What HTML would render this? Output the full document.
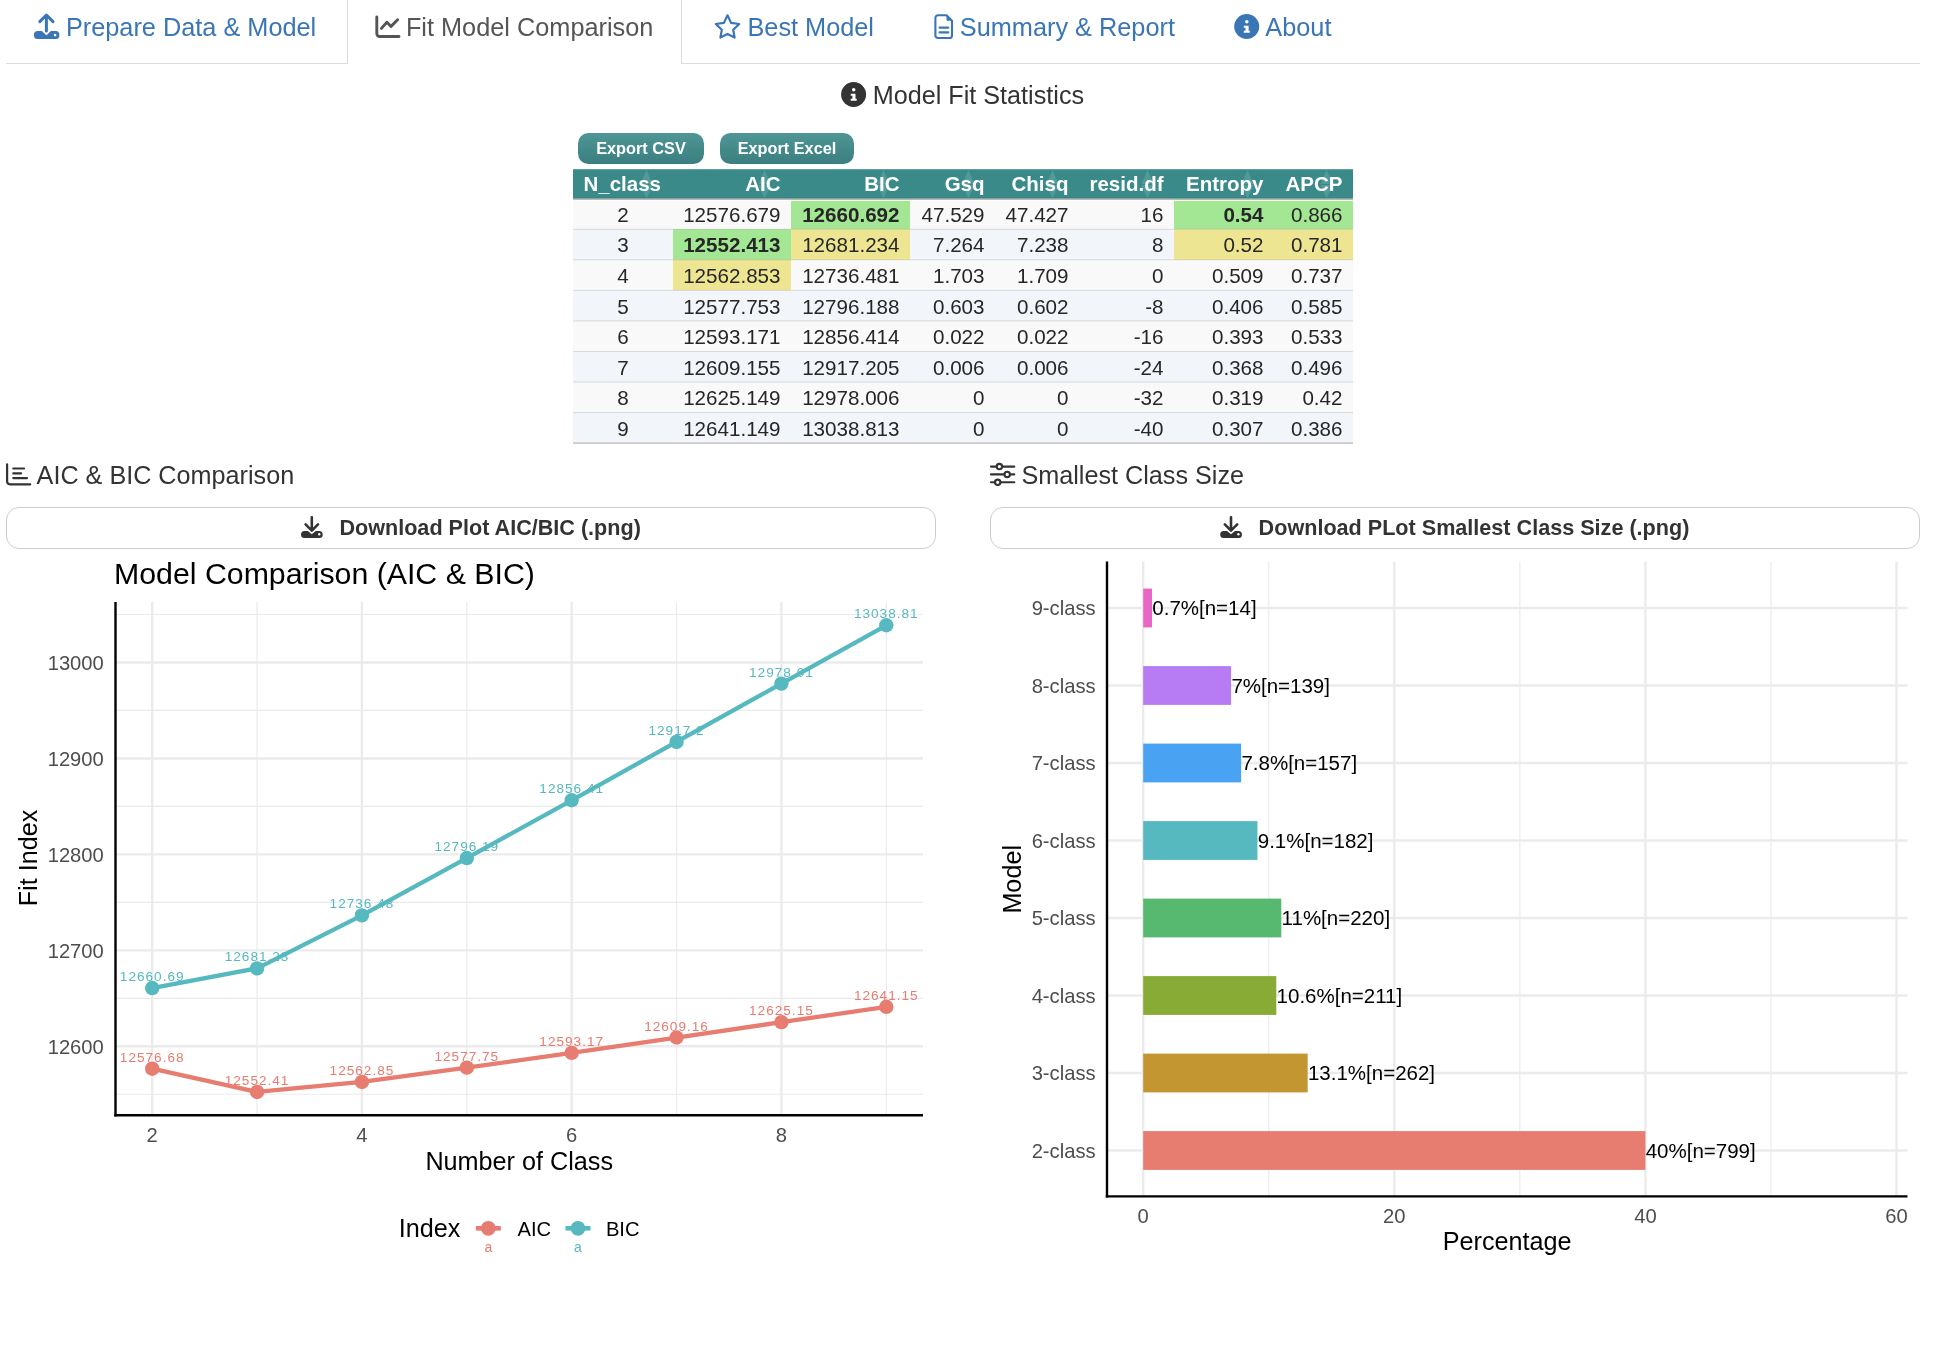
<!DOCTYPE html>
<html><head><meta charset="utf-8"><title>Fit Model Comparison</title>
<style>
html,body{margin:0;padding:0;background:#fff;width:1936px;height:1350px;overflow:hidden;}
svg{display:block;font-family:"Liberation Sans", sans-serif;will-change:transform;}
</style></head><body>
<svg width="1936" height="1350" viewBox="0 0 1936 1350">
<line x1="6" y1="63.5" x2="1920" y2="63.5" stroke="#dddddd" stroke-width="1"/>
<rect x="0" y="0" width="1936" height="0" fill="none"/>
<path d="M347.5 0 V64 M681.5 0 V64" stroke="#dddddd" stroke-width="1" fill="none"/>
<rect x="348" y="0" width="333" height="64" fill="#fff"/>
<text x="65.95" y="36" font-size="25.3" fill="#3a76b6">Prepare Data &amp; Model</text>
<text x="405.93" y="36" font-size="25.3" fill="#555555">Fit Model Comparison</text>
<text x="747.45" y="36" font-size="25.3" fill="#3a76b6">Best Model</text>
<text x="959.86" y="36" font-size="25.3" fill="#3a76b6">Summary &amp; Report</text>
<text x="1265.30" y="36" font-size="25.3" fill="#3a76b6">About</text>
<g fill="#3a76b6">
<path d="M46.4 30.9 V15.5 M39.8 21.6 L46.4 15 L53 21.6" stroke="#3a76b6" stroke-width="3" stroke-linecap="round" stroke-linejoin="round" fill="none"/>
<path d="M37.5 31 H41.8 L46.4 35.3 L51 31 H55.8 A3.5 3.5 0 0 1 59.3 34.5 V35.4 A3.5 3.5 0 0 1 55.8 38.9 H37.5 A3.5 3.5 0 0 1 34 35.4 V34.5 A3.5 3.5 0 0 1 37.5 31 Z"/>
<circle cx="55.1" cy="35.1" r="1.3" fill="#fff"/>
</g>
<g stroke="#555555" stroke-width="2.9" fill="none" stroke-linecap="round" stroke-linejoin="round">
<path d="M376.8 17 V33.5 A3 3 0 0 0 379.8 36.5 H399"/>
<path d="M381.4 28.4 L386.9 22.2 L391 26.4 L397.6 19.8"/>
</g>
<path d="M727.5 15.3 L731.1 22.9 L739.2 24 L733.2 29.8 L734.6 37.6 L727.5 33.9 L720.4 37.6 L721.8 29.8 L715.8 24 L723.9 22.9 Z" stroke="#3a76b6" stroke-width="2.2" fill="none" stroke-linejoin="round"/>
<g stroke="#3a76b6" stroke-width="2.1" fill="none" stroke-linejoin="round" stroke-linecap="round">
<path d="M946.5 15.2 H938 A2.6 2.6 0 0 0 935.4 17.8 V35.4 A2.6 2.6 0 0 0 938 38 H949.4 A2.6 2.6 0 0 0 952 35.4 V20.8 Z"/>
<path d="M939.6 27.6 H948.3 M939.6 32.4 H948.3"/>
</g>
<path d="M946.5 15.2 V19.8 A1 1 0 0 0 947.5 20.8 H952 Z" fill="#3a76b6"/>
<circle cx="1246.7" cy="26.5" r="12.5" fill="#3a76b6"/>
<circle cx="1246.80" cy="21.80" r="1.75" fill="#fff"/>
<path d="M1243.80 25.80 H1248.60 V30.80 H1249.80 V32.80 H1243.80 V30.80 H1245.50 V27.80 H1243.80 Z" fill="#fff"/>
<circle cx="853.6" cy="94.5" r="12.5" fill="#333333"/>
<circle cx="853.70" cy="89.80" r="1.75" fill="#fff"/>
<path d="M850.70 93.80 H855.50 V98.80 H856.70 V100.80 H850.70 V98.80 H852.40 V95.80 H850.70 Z" fill="#fff"/>
<text x="872.74" y="103.9" font-size="25.2" fill="#333">Model Fit Statistics</text>
<defs><linearGradient id="tg" x1="0" y1="0" x2="0" y2="1">
<stop offset="0" stop-color="#4f9696"/><stop offset="1" stop-color="#3b7f80"/></linearGradient></defs>
<rect x="578" y="133" width="126" height="31" rx="10.5" fill="url(#tg)"/>
<rect x="720" y="133" width="134" height="31" rx="10.5" fill="url(#tg)"/>
<text x="641" y="153.9" font-size="16.3" fill="#fff" font-weight="700" text-anchor="middle">Export CSV</text>
<text x="787" y="153.9" font-size="16.3" fill="#fff" font-weight="700" text-anchor="middle">Export Excel</text>
<rect x="573" y="169.2" width="780" height="29.40" fill="#3b8a8a"/>
<text x="583.50" y="191.10" font-size="20.5" fill="#fff" font-weight="700" text-anchor="start" >N_class</text>
<text x="780.50" y="191.10" font-size="20.5" fill="#fff" font-weight="700" text-anchor="end" >AIC</text>
<text x="899.50" y="191.10" font-size="20.5" fill="#fff" font-weight="700" text-anchor="end" >BIC</text>
<text x="984.50" y="191.10" font-size="20.5" fill="#fff" font-weight="700" text-anchor="end" >Gsq</text>
<text x="1068.50" y="191.10" font-size="20.5" fill="#fff" font-weight="700" text-anchor="end" >Chisq</text>
<text x="1163.50" y="191.10" font-size="20.5" fill="#fff" font-weight="700" text-anchor="end" >resid.df</text>
<text x="1263.50" y="191.10" font-size="20.5" fill="#fff" font-weight="700" text-anchor="end" >Entropy</text>
<text x="1342.50" y="191.10" font-size="20.5" fill="#fff" font-weight="700" text-anchor="end" >APCP</text>
<path d="M640.5 184 L646.5 170 L652.5 184 Z M640.5 185 L646.5 198.5 L652.5 185 Z" fill="#ffffff" fill-opacity="0.13"/>
<path d="M758.5 184 L764.5 170 L770.5 184 Z M758.5 185 L764.5 198.5 L770.5 185 Z" fill="#ffffff" fill-opacity="0.13"/>
<path d="M877.5 184 L883.5 170 L889.5 184 Z M877.5 185 L883.5 198.5 L889.5 185 Z" fill="#ffffff" fill-opacity="0.13"/>
<path d="M962.5 184 L968.5 170 L974.5 184 Z M962.5 185 L968.5 198.5 L974.5 185 Z" fill="#ffffff" fill-opacity="0.13"/>
<path d="M1046.5 184 L1052.5 170 L1058.5 184 Z M1046.5 185 L1052.5 198.5 L1058.5 185 Z" fill="#ffffff" fill-opacity="0.13"/>
<path d="M1141.5 184 L1147.5 170 L1153.5 184 Z M1141.5 185 L1147.5 198.5 L1153.5 185 Z" fill="#ffffff" fill-opacity="0.13"/>
<path d="M1241.5 184 L1247.5 170 L1253.5 184 Z M1241.5 185 L1247.5 198.5 L1253.5 185 Z" fill="#ffffff" fill-opacity="0.13"/>
<path d="M1320.5 184 L1326.5 170 L1332.5 184 Z M1320.5 185 L1326.5 198.5 L1332.5 185 Z" fill="#ffffff" fill-opacity="0.13"/>
<rect x="573" y="198.60" width="780" height="30.700" fill="#f9f9f9"/>
<rect x="791" y="198.60" width="119" height="30.700" fill="#a3e795"/>
<rect x="1174" y="198.60" width="100" height="30.700" fill="#a3e795"/>
<rect x="1274" y="198.60" width="79" height="30.700" fill="#a3e795"/>
<text x="623.00" y="221.90" font-size="20.6" fill="#262626" font-weight="400" text-anchor="middle" >2</text>
<text x="780.50" y="221.90" font-size="20.6" fill="#262626" font-weight="400" text-anchor="end" >12576.679</text>
<text x="899.50" y="221.90" font-size="20.6" fill="#262626" font-weight="700" text-anchor="end" >12660.692</text>
<text x="984.50" y="221.90" font-size="20.6" fill="#262626" font-weight="400" text-anchor="end" >47.529</text>
<text x="1068.50" y="221.90" font-size="20.6" fill="#262626" font-weight="400" text-anchor="end" >47.427</text>
<text x="1163.50" y="221.90" font-size="20.6" fill="#262626" font-weight="400" text-anchor="end" >16</text>
<text x="1263.50" y="221.90" font-size="20.6" fill="#262626" font-weight="700" text-anchor="end" >0.54</text>
<text x="1342.50" y="221.90" font-size="20.6" fill="#262626" font-weight="400" text-anchor="end" >0.866</text>
<rect x="573" y="229.30" width="780" height="30.540" fill="#f2f5fa"/>
<rect x="673" y="229.30" width="118" height="30.540" fill="#a3e795"/>
<rect x="791" y="229.30" width="119" height="30.540" fill="#ede592"/>
<rect x="1174" y="229.30" width="100" height="30.540" fill="#ede592"/>
<rect x="1274" y="229.30" width="79" height="30.540" fill="#ede592"/>
<line x1="573" y1="229.30" x2="1353" y2="229.30" stroke="#000" stroke-opacity="0.13" stroke-width="1"/>
<text x="623.00" y="252.44" font-size="20.6" fill="#262626" font-weight="400" text-anchor="middle" >3</text>
<text x="780.50" y="252.44" font-size="20.6" fill="#262626" font-weight="700" text-anchor="end" >12552.413</text>
<text x="899.50" y="252.44" font-size="20.6" fill="#262626" font-weight="400" text-anchor="end" >12681.234</text>
<text x="984.50" y="252.44" font-size="20.6" fill="#262626" font-weight="400" text-anchor="end" >7.264</text>
<text x="1068.50" y="252.44" font-size="20.6" fill="#262626" font-weight="400" text-anchor="end" >7.238</text>
<text x="1163.50" y="252.44" font-size="20.6" fill="#262626" font-weight="400" text-anchor="end" >8</text>
<text x="1263.50" y="252.44" font-size="20.6" fill="#262626" font-weight="400" text-anchor="end" >0.52</text>
<text x="1342.50" y="252.44" font-size="20.6" fill="#262626" font-weight="400" text-anchor="end" >0.781</text>
<rect x="573" y="259.84" width="780" height="30.540" fill="#f9f9f9"/>
<rect x="673" y="259.84" width="118" height="30.540" fill="#ede592"/>
<line x1="573" y1="259.84" x2="1353" y2="259.84" stroke="#000" stroke-opacity="0.13" stroke-width="1"/>
<text x="623.00" y="282.98" font-size="20.6" fill="#262626" font-weight="400" text-anchor="middle" >4</text>
<text x="780.50" y="282.98" font-size="20.6" fill="#262626" font-weight="400" text-anchor="end" >12562.853</text>
<text x="899.50" y="282.98" font-size="20.6" fill="#262626" font-weight="400" text-anchor="end" >12736.481</text>
<text x="984.50" y="282.98" font-size="20.6" fill="#262626" font-weight="400" text-anchor="end" >1.703</text>
<text x="1068.50" y="282.98" font-size="20.6" fill="#262626" font-weight="400" text-anchor="end" >1.709</text>
<text x="1163.50" y="282.98" font-size="20.6" fill="#262626" font-weight="400" text-anchor="end" >0</text>
<text x="1263.50" y="282.98" font-size="20.6" fill="#262626" font-weight="400" text-anchor="end" >0.509</text>
<text x="1342.50" y="282.98" font-size="20.6" fill="#262626" font-weight="400" text-anchor="end" >0.737</text>
<rect x="573" y="290.38" width="780" height="30.540" fill="#f2f5fa"/>
<line x1="573" y1="290.38" x2="1353" y2="290.38" stroke="#000" stroke-opacity="0.13" stroke-width="1"/>
<text x="623.00" y="313.52" font-size="20.6" fill="#262626" font-weight="400" text-anchor="middle" >5</text>
<text x="780.50" y="313.52" font-size="20.6" fill="#262626" font-weight="400" text-anchor="end" >12577.753</text>
<text x="899.50" y="313.52" font-size="20.6" fill="#262626" font-weight="400" text-anchor="end" >12796.188</text>
<text x="984.50" y="313.52" font-size="20.6" fill="#262626" font-weight="400" text-anchor="end" >0.603</text>
<text x="1068.50" y="313.52" font-size="20.6" fill="#262626" font-weight="400" text-anchor="end" >0.602</text>
<text x="1163.50" y="313.52" font-size="20.6" fill="#262626" font-weight="400" text-anchor="end" >-8</text>
<text x="1263.50" y="313.52" font-size="20.6" fill="#262626" font-weight="400" text-anchor="end" >0.406</text>
<text x="1342.50" y="313.52" font-size="20.6" fill="#262626" font-weight="400" text-anchor="end" >0.585</text>
<rect x="573" y="320.92" width="780" height="30.540" fill="#f9f9f9"/>
<line x1="573" y1="320.92" x2="1353" y2="320.92" stroke="#000" stroke-opacity="0.13" stroke-width="1"/>
<text x="623.00" y="344.06" font-size="20.6" fill="#262626" font-weight="400" text-anchor="middle" >6</text>
<text x="780.50" y="344.06" font-size="20.6" fill="#262626" font-weight="400" text-anchor="end" >12593.171</text>
<text x="899.50" y="344.06" font-size="20.6" fill="#262626" font-weight="400" text-anchor="end" >12856.414</text>
<text x="984.50" y="344.06" font-size="20.6" fill="#262626" font-weight="400" text-anchor="end" >0.022</text>
<text x="1068.50" y="344.06" font-size="20.6" fill="#262626" font-weight="400" text-anchor="end" >0.022</text>
<text x="1163.50" y="344.06" font-size="20.6" fill="#262626" font-weight="400" text-anchor="end" >-16</text>
<text x="1263.50" y="344.06" font-size="20.6" fill="#262626" font-weight="400" text-anchor="end" >0.393</text>
<text x="1342.50" y="344.06" font-size="20.6" fill="#262626" font-weight="400" text-anchor="end" >0.533</text>
<rect x="573" y="351.46" width="780" height="30.540" fill="#f2f5fa"/>
<line x1="573" y1="351.46" x2="1353" y2="351.46" stroke="#000" stroke-opacity="0.13" stroke-width="1"/>
<text x="623.00" y="374.60" font-size="20.6" fill="#262626" font-weight="400" text-anchor="middle" >7</text>
<text x="780.50" y="374.60" font-size="20.6" fill="#262626" font-weight="400" text-anchor="end" >12609.155</text>
<text x="899.50" y="374.60" font-size="20.6" fill="#262626" font-weight="400" text-anchor="end" >12917.205</text>
<text x="984.50" y="374.60" font-size="20.6" fill="#262626" font-weight="400" text-anchor="end" >0.006</text>
<text x="1068.50" y="374.60" font-size="20.6" fill="#262626" font-weight="400" text-anchor="end" >0.006</text>
<text x="1163.50" y="374.60" font-size="20.6" fill="#262626" font-weight="400" text-anchor="end" >-24</text>
<text x="1263.50" y="374.60" font-size="20.6" fill="#262626" font-weight="400" text-anchor="end" >0.368</text>
<text x="1342.50" y="374.60" font-size="20.6" fill="#262626" font-weight="400" text-anchor="end" >0.496</text>
<rect x="573" y="382.00" width="780" height="30.540" fill="#f9f9f9"/>
<line x1="573" y1="382.00" x2="1353" y2="382.00" stroke="#000" stroke-opacity="0.13" stroke-width="1"/>
<text x="623.00" y="405.14" font-size="20.6" fill="#262626" font-weight="400" text-anchor="middle" >8</text>
<text x="780.50" y="405.14" font-size="20.6" fill="#262626" font-weight="400" text-anchor="end" >12625.149</text>
<text x="899.50" y="405.14" font-size="20.6" fill="#262626" font-weight="400" text-anchor="end" >12978.006</text>
<text x="984.50" y="405.14" font-size="20.6" fill="#262626" font-weight="400" text-anchor="end" >0</text>
<text x="1068.50" y="405.14" font-size="20.6" fill="#262626" font-weight="400" text-anchor="end" >0</text>
<text x="1163.50" y="405.14" font-size="20.6" fill="#262626" font-weight="400" text-anchor="end" >-32</text>
<text x="1263.50" y="405.14" font-size="20.6" fill="#262626" font-weight="400" text-anchor="end" >0.319</text>
<text x="1342.50" y="405.14" font-size="20.6" fill="#262626" font-weight="400" text-anchor="end" >0.42</text>
<rect x="573" y="412.54" width="780" height="30.560" fill="#f2f5fa"/>
<line x1="573" y1="412.54" x2="1353" y2="412.54" stroke="#000" stroke-opacity="0.13" stroke-width="1"/>
<text x="623.00" y="435.68" font-size="20.6" fill="#262626" font-weight="400" text-anchor="middle" >9</text>
<text x="780.50" y="435.68" font-size="20.6" fill="#262626" font-weight="400" text-anchor="end" >12641.149</text>
<text x="899.50" y="435.68" font-size="20.6" fill="#262626" font-weight="400" text-anchor="end" >13038.813</text>
<text x="984.50" y="435.68" font-size="20.6" fill="#262626" font-weight="400" text-anchor="end" >0</text>
<text x="1068.50" y="435.68" font-size="20.6" fill="#262626" font-weight="400" text-anchor="end" >0</text>
<text x="1163.50" y="435.68" font-size="20.6" fill="#262626" font-weight="400" text-anchor="end" >-40</text>
<text x="1263.50" y="435.68" font-size="20.6" fill="#262626" font-weight="400" text-anchor="end" >0.307</text>
<text x="1342.50" y="435.68" font-size="20.6" fill="#262626" font-weight="400" text-anchor="end" >0.386</text>
<rect x="573" y="197.6" width="780" height="1" fill="#33807f"/>
<rect x="573" y="198.6" width="780" height="1.3" fill="#b0abab"/>
<rect x="573" y="199.9" width="780" height="1" fill="#fdfdfd"/>
<line x1="573" y1="443.1" x2="1353" y2="443.1" stroke="#a9a9a9" stroke-width="1"/>
<g stroke="#333" stroke-width="2.2" fill="none" stroke-linecap="round" stroke-linejoin="round">
<path d="M7.1 464.3 V481.3 A3 3 0 0 0 10.1 484.3 H30.2"/>
<path d="M13.3 468.5 H24 M13.3 473.4 H21 M13.3 478.1 H27"/></g>
<text x="36.60" y="483.6" font-size="25.2" fill="#333">AIC &amp; BIC Comparison</text>
<g stroke="#333" stroke-width="2.1" fill="none" stroke-linecap="round">
<path d="M991 466.6 H996.2 M1002.6 466.6 H1014.3 M991 474.4 H1004 M1010.4 474.4 H1014.3 M991 482.3 H994.5 M1000.9 482.3 H1014.3"/>
<circle cx="999.4" cy="466.6" r="2.7"/><circle cx="1007.2" cy="474.4" r="2.7"/><circle cx="997.7" cy="482.3" r="2.7"/></g>
<text x="1021.47" y="483.6" font-size="25.2" fill="#333">Smallest Class Size</text>
<rect x="6.5" y="507.5" width="929" height="41" rx="12.5" fill="#fff" stroke="#cccccc" stroke-width="1"/>
<rect x="990.5" y="507.5" width="929" height="41" rx="12.5" fill="#fff" stroke="#cccccc" stroke-width="1"/>
<g fill="#333">
<path d="M311.8 517.3 V530 M305.6 524.4 L311.8 530.6 L318.0 524.4" stroke="#333" stroke-width="2.6" stroke-linecap="round" stroke-linejoin="round" fill="none"/>
<path d="M304.5 531 H307.8 L311.8 534.2 L315.8 531 H319.2 A3.5 3.5 0 0 1 322.7 534.5 V534.8 A3.2 3.2 0 0 1 319.5 538 H304.5 A3.5 3.5 0 0 1 301 534.5 A3.5 3.5 0 0 1 304.5 531 Z"/>
<circle cx="319.2" cy="534.3" r="1.2" fill="#fff"/></g>
<g fill="#333">
<path d="M1231.0 517.3 V530 M1224.8 524.4 L1231.0 530.6 L1237.2 524.4" stroke="#333" stroke-width="2.6" stroke-linecap="round" stroke-linejoin="round" fill="none"/>
<path d="M1223.7 531 H1227.0 L1231.0 534.2 L1235.0 531 H1238.4 A3.5 3.5 0 0 1 1241.9 534.5 V534.8 A3.2 3.2 0 0 1 1238.7 538 H1223.7 A3.5 3.5 0 0 1 1220.2 534.5 A3.5 3.5 0 0 1 1223.7 531 Z"/>
<circle cx="1238.4" cy="534.3" r="1.2" fill="#fff"/></g>
<text x="339.42" y="534.7" font-size="21.6" fill="#333" font-weight="700">Download Plot AIC/BIC (.png)</text>
<text x="1258.62" y="534.7" font-size="21.6" fill="#333" font-weight="700">Download PLot Smallest Class Size (.png)</text>
<line x1="115.50" y1="1094.27" x2="922.99" y2="1094.27" stroke="#ebebeb" stroke-width="1.2"/>
<line x1="115.50" y1="998.32" x2="922.99" y2="998.32" stroke="#ebebeb" stroke-width="1.2"/>
<line x1="115.50" y1="902.38" x2="922.99" y2="902.38" stroke="#ebebeb" stroke-width="1.2"/>
<line x1="115.50" y1="806.42" x2="922.99" y2="806.42" stroke="#ebebeb" stroke-width="1.2"/>
<line x1="115.50" y1="710.47" x2="922.99" y2="710.47" stroke="#ebebeb" stroke-width="1.2"/>
<line x1="115.50" y1="614.52" x2="922.99" y2="614.52" stroke="#ebebeb" stroke-width="1.2"/>
<line x1="257.07" y1="601.93" x2="257.07" y2="1115.30" stroke="#ebebeb" stroke-width="1.2"/>
<line x1="466.81" y1="601.93" x2="466.81" y2="1115.30" stroke="#ebebeb" stroke-width="1.2"/>
<line x1="676.55" y1="601.93" x2="676.55" y2="1115.30" stroke="#ebebeb" stroke-width="1.2"/>
<line x1="886.29" y1="601.93" x2="886.29" y2="1115.30" stroke="#ebebeb" stroke-width="1.2"/>
<line x1="115.50" y1="1046.30" x2="922.99" y2="1046.30" stroke="#ebebeb" stroke-width="2.4"/>
<line x1="115.50" y1="950.35" x2="922.99" y2="950.35" stroke="#ebebeb" stroke-width="2.4"/>
<line x1="115.50" y1="854.40" x2="922.99" y2="854.40" stroke="#ebebeb" stroke-width="2.4"/>
<line x1="115.50" y1="758.45" x2="922.99" y2="758.45" stroke="#ebebeb" stroke-width="2.4"/>
<line x1="115.50" y1="662.50" x2="922.99" y2="662.50" stroke="#ebebeb" stroke-width="2.4"/>
<line x1="152.20" y1="601.93" x2="152.20" y2="1115.30" stroke="#ebebeb" stroke-width="2.4"/>
<line x1="361.94" y1="601.93" x2="361.94" y2="1115.30" stroke="#ebebeb" stroke-width="2.4"/>
<line x1="571.68" y1="601.93" x2="571.68" y2="1115.30" stroke="#ebebeb" stroke-width="2.4"/>
<line x1="781.42" y1="601.93" x2="781.42" y2="1115.30" stroke="#ebebeb" stroke-width="2.4"/>
<polyline points="152.20,1068.68 257.07,1091.96 361.94,1081.94 466.81,1067.65 571.68,1052.85 676.55,1037.52 781.42,1022.17 886.29,1006.82" fill="none" stroke="#e77c70" stroke-width="4.3" stroke-linejoin="round"/>
<circle cx="152.20" cy="1068.68" r="7.2" fill="#e77c70"/>
<circle cx="257.07" cy="1091.96" r="7.2" fill="#e77c70"/>
<circle cx="361.94" cy="1081.94" r="7.2" fill="#e77c70"/>
<circle cx="466.81" cy="1067.65" r="7.2" fill="#e77c70"/>
<circle cx="571.68" cy="1052.85" r="7.2" fill="#e77c70"/>
<circle cx="676.55" cy="1037.52" r="7.2" fill="#e77c70"/>
<circle cx="781.42" cy="1022.17" r="7.2" fill="#e77c70"/>
<circle cx="886.29" cy="1006.82" r="7.2" fill="#e77c70"/>
<polyline points="152.20,988.07 257.07,968.36 361.94,915.35 466.81,858.06 571.68,800.27 676.55,741.94 781.42,683.60 886.29,625.26" fill="none" stroke="#57b9c0" stroke-width="4.3" stroke-linejoin="round"/>
<circle cx="152.20" cy="988.07" r="7.2" fill="#57b9c0"/>
<circle cx="257.07" cy="968.36" r="7.2" fill="#57b9c0"/>
<circle cx="361.94" cy="915.35" r="7.2" fill="#57b9c0"/>
<circle cx="466.81" cy="858.06" r="7.2" fill="#57b9c0"/>
<circle cx="571.68" cy="800.27" r="7.2" fill="#57b9c0"/>
<circle cx="676.55" cy="741.94" r="7.2" fill="#57b9c0"/>
<circle cx="781.42" cy="683.60" r="7.2" fill="#57b9c0"/>
<circle cx="886.29" cy="625.26" r="7.2" fill="#57b9c0"/>
<text x="152.20" y="1061.68" font-size="13.6" fill="#e77c70" font-weight="400" text-anchor="middle" letter-spacing="1">12576.68</text>
<text x="257.07" y="1084.96" font-size="13.6" fill="#e77c70" font-weight="400" text-anchor="middle" letter-spacing="1">12552.41</text>
<text x="361.94" y="1074.94" font-size="13.6" fill="#e77c70" font-weight="400" text-anchor="middle" letter-spacing="1">12562.85</text>
<text x="466.81" y="1060.65" font-size="13.6" fill="#e77c70" font-weight="400" text-anchor="middle" letter-spacing="1">12577.75</text>
<text x="571.68" y="1045.85" font-size="13.6" fill="#e77c70" font-weight="400" text-anchor="middle" letter-spacing="1">12593.17</text>
<text x="676.55" y="1030.52" font-size="13.6" fill="#e77c70" font-weight="400" text-anchor="middle" letter-spacing="1">12609.16</text>
<text x="781.42" y="1015.17" font-size="13.6" fill="#e77c70" font-weight="400" text-anchor="middle" letter-spacing="1">12625.15</text>
<text x="886.29" y="999.82" font-size="13.6" fill="#e77c70" font-weight="400" text-anchor="middle" letter-spacing="1">12641.15</text>
<text x="152.20" y="981.07" font-size="13.6" fill="#57b9c0" font-weight="400" text-anchor="middle" letter-spacing="1">12660.69</text>
<text x="257.07" y="961.36" font-size="13.6" fill="#57b9c0" font-weight="400" text-anchor="middle" letter-spacing="1">12681.23</text>
<text x="361.94" y="908.35" font-size="13.6" fill="#57b9c0" font-weight="400" text-anchor="middle" letter-spacing="1">12736.48</text>
<text x="466.81" y="851.06" font-size="13.6" fill="#57b9c0" font-weight="400" text-anchor="middle" letter-spacing="1">12796.19</text>
<text x="571.68" y="793.27" font-size="13.6" fill="#57b9c0" font-weight="400" text-anchor="middle" letter-spacing="1">12856.41</text>
<text x="676.55" y="734.94" font-size="13.6" fill="#57b9c0" font-weight="400" text-anchor="middle" letter-spacing="1">12917.2</text>
<text x="781.42" y="676.60" font-size="13.6" fill="#57b9c0" font-weight="400" text-anchor="middle" letter-spacing="1">12978.01</text>
<text x="886.29" y="618.26" font-size="13.6" fill="#57b9c0" font-weight="400" text-anchor="middle" letter-spacing="1">13038.81</text>
<line x1="115.50" y1="601.93" x2="115.50" y2="1116.50" stroke="#000" stroke-width="2.4"/>
<line x1="114.30" y1="1115.30" x2="922.99" y2="1115.30" stroke="#000" stroke-width="2.4"/>
<text x="103.80" y="1053.60" font-size="20.2" fill="#4d4d4d" font-weight="400" text-anchor="end" >12600</text>
<text x="103.80" y="957.65" font-size="20.2" fill="#4d4d4d" font-weight="400" text-anchor="end" >12700</text>
<text x="103.80" y="861.70" font-size="20.2" fill="#4d4d4d" font-weight="400" text-anchor="end" >12800</text>
<text x="103.80" y="765.75" font-size="20.2" fill="#4d4d4d" font-weight="400" text-anchor="end" >12900</text>
<text x="103.80" y="669.80" font-size="20.2" fill="#4d4d4d" font-weight="400" text-anchor="end" >13000</text>
<text x="152.20" y="1142.10" font-size="20.2" fill="#4d4d4d" font-weight="400" text-anchor="middle" >2</text>
<text x="361.94" y="1142.10" font-size="20.2" fill="#4d4d4d" font-weight="400" text-anchor="middle" >4</text>
<text x="571.68" y="1142.10" font-size="20.2" fill="#4d4d4d" font-weight="400" text-anchor="middle" >6</text>
<text x="781.42" y="1142.10" font-size="20.2" fill="#4d4d4d" font-weight="400" text-anchor="middle" >8</text>
<text x="519.20" y="1170.10" font-size="25.2" fill="#000" font-weight="400" text-anchor="middle" >Number of Class</text>
<text x="36.7" y="858" font-size="25.2" fill="#000" text-anchor="middle" transform="rotate(-90 36.7 858)">Fit Index</text>
<text x="113.98" y="584" font-size="30.3" fill="#000">Model Comparison (AIC &amp; BIC)</text>
<text x="398.70" y="1237.00" font-size="25.2" fill="#000" font-weight="400" text-anchor="start" >Index</text>
<line x1="475.8" y1="1228.3" x2="500.8" y2="1228.3" stroke="#e77c70" stroke-width="4.6"/>
<circle cx="488.3" cy="1228.3" r="7.4" fill="#e77c70"/>
<text x="488.30" y="1252.00" font-size="14" fill="#e77c70" font-weight="400" text-anchor="middle" >a</text>
<text x="517.50" y="1236.20" font-size="20.2" fill="#000" font-weight="400" text-anchor="start" >AIC</text>
<line x1="565.5" y1="1228.3" x2="590.5" y2="1228.3" stroke="#57b9c0" stroke-width="4.6"/>
<circle cx="578" cy="1228.3" r="7.4" fill="#57b9c0"/>
<text x="578.00" y="1252.00" font-size="14" fill="#57b9c0" font-weight="400" text-anchor="middle" >a</text>
<text x="605.90" y="1236.20" font-size="20.2" fill="#000" font-weight="400" text-anchor="start" >BIC</text>
<line x1="1268.75" y1="561.5" x2="1268.75" y2="1196.4" stroke="#ebebeb" stroke-width="1.2"/>
<line x1="1519.85" y1="561.5" x2="1519.85" y2="1196.4" stroke="#ebebeb" stroke-width="1.2"/>
<line x1="1770.95" y1="561.5" x2="1770.95" y2="1196.4" stroke="#ebebeb" stroke-width="1.2"/>
<line x1="1107" y1="608.00" x2="1907.5" y2="608.00" stroke="#ebebeb" stroke-width="2.4"/>
<line x1="1107" y1="685.50" x2="1907.5" y2="685.50" stroke="#ebebeb" stroke-width="2.4"/>
<line x1="1107" y1="763.00" x2="1907.5" y2="763.00" stroke="#ebebeb" stroke-width="2.4"/>
<line x1="1107" y1="840.50" x2="1907.5" y2="840.50" stroke="#ebebeb" stroke-width="2.4"/>
<line x1="1107" y1="918.00" x2="1907.5" y2="918.00" stroke="#ebebeb" stroke-width="2.4"/>
<line x1="1107" y1="995.50" x2="1907.5" y2="995.50" stroke="#ebebeb" stroke-width="2.4"/>
<line x1="1107" y1="1073.00" x2="1907.5" y2="1073.00" stroke="#ebebeb" stroke-width="2.4"/>
<line x1="1107" y1="1150.50" x2="1907.5" y2="1150.50" stroke="#ebebeb" stroke-width="2.4"/>
<line x1="1143.20" y1="561.5" x2="1143.20" y2="1196.4" stroke="#ebebeb" stroke-width="2.4"/>
<line x1="1394.30" y1="561.5" x2="1394.30" y2="1196.4" stroke="#ebebeb" stroke-width="2.4"/>
<line x1="1645.40" y1="561.5" x2="1645.40" y2="1196.4" stroke="#ebebeb" stroke-width="2.4"/>
<line x1="1896.50" y1="561.5" x2="1896.50" y2="1196.4" stroke="#ebebeb" stroke-width="2.4"/>
<rect x="1143.20" y="588.60" width="8.79" height="38.8" fill="#e866c6"/>
<text x="1152.29" y="615.30" font-size="20.5" fill="#000" font-weight="400" text-anchor="start" >0.7%[n=14]</text>
<rect x="1143.20" y="666.10" width="87.88" height="38.8" fill="#b77cf4"/>
<text x="1231.38" y="692.80" font-size="20.5" fill="#000" font-weight="400" text-anchor="start" >7%[n=139]</text>
<rect x="1143.20" y="743.60" width="97.93" height="38.8" fill="#4aa3f2"/>
<text x="1241.43" y="770.30" font-size="20.5" fill="#000" font-weight="400" text-anchor="start" >7.8%[n=157]</text>
<rect x="1143.20" y="821.10" width="114.25" height="38.8" fill="#57b9c0"/>
<text x="1257.75" y="847.80" font-size="20.5" fill="#000" font-weight="400" text-anchor="start" >9.1%[n=182]</text>
<rect x="1143.20" y="898.60" width="138.10" height="38.8" fill="#56b96f"/>
<text x="1281.61" y="925.30" font-size="20.5" fill="#000" font-weight="400" text-anchor="start" >11%[n=220]</text>
<rect x="1143.20" y="976.10" width="133.08" height="38.8" fill="#87ab35"/>
<text x="1276.58" y="1002.80" font-size="20.5" fill="#000" font-weight="400" text-anchor="start" >10.6%[n=211]</text>
<rect x="1143.20" y="1053.60" width="164.47" height="38.8" fill="#c49632"/>
<text x="1307.97" y="1080.30" font-size="20.5" fill="#000" font-weight="400" text-anchor="start" >13.1%[n=262]</text>
<rect x="1143.20" y="1131.10" width="502.20" height="38.8" fill="#e77c70"/>
<text x="1645.70" y="1157.80" font-size="20.5" fill="#000" font-weight="400" text-anchor="start" >40%[n=799]</text>
<line x1="1107" y1="561.5" x2="1107" y2="1197.6000000000001" stroke="#000" stroke-width="2.4"/>
<line x1="1105.8" y1="1196.4" x2="1907.5" y2="1196.4" stroke="#000" stroke-width="2.4"/>
<text x="1095.60" y="615.20" font-size="20.2" fill="#4d4d4d" font-weight="400" text-anchor="end" >9-class</text>
<text x="1095.60" y="692.70" font-size="20.2" fill="#4d4d4d" font-weight="400" text-anchor="end" >8-class</text>
<text x="1095.60" y="770.20" font-size="20.2" fill="#4d4d4d" font-weight="400" text-anchor="end" >7-class</text>
<text x="1095.60" y="847.70" font-size="20.2" fill="#4d4d4d" font-weight="400" text-anchor="end" >6-class</text>
<text x="1095.60" y="925.20" font-size="20.2" fill="#4d4d4d" font-weight="400" text-anchor="end" >5-class</text>
<text x="1095.60" y="1002.70" font-size="20.2" fill="#4d4d4d" font-weight="400" text-anchor="end" >4-class</text>
<text x="1095.60" y="1080.20" font-size="20.2" fill="#4d4d4d" font-weight="400" text-anchor="end" >3-class</text>
<text x="1095.60" y="1157.70" font-size="20.2" fill="#4d4d4d" font-weight="400" text-anchor="end" >2-class</text>
<text x="1143.20" y="1222.70" font-size="20.2" fill="#4d4d4d" font-weight="400" text-anchor="middle" >0</text>
<text x="1394.30" y="1222.70" font-size="20.2" fill="#4d4d4d" font-weight="400" text-anchor="middle" >20</text>
<text x="1645.40" y="1222.70" font-size="20.2" fill="#4d4d4d" font-weight="400" text-anchor="middle" >40</text>
<text x="1896.50" y="1222.70" font-size="20.2" fill="#4d4d4d" font-weight="400" text-anchor="middle" >60</text>
<text x="1507.20" y="1249.50" font-size="25.2" fill="#000" font-weight="400" text-anchor="middle" >Percentage</text>
<text x="1021" y="879.3" font-size="25.2" fill="#000" text-anchor="middle" transform="rotate(-90 1021 879.3)">Model</text>
</svg>
</body></html>
